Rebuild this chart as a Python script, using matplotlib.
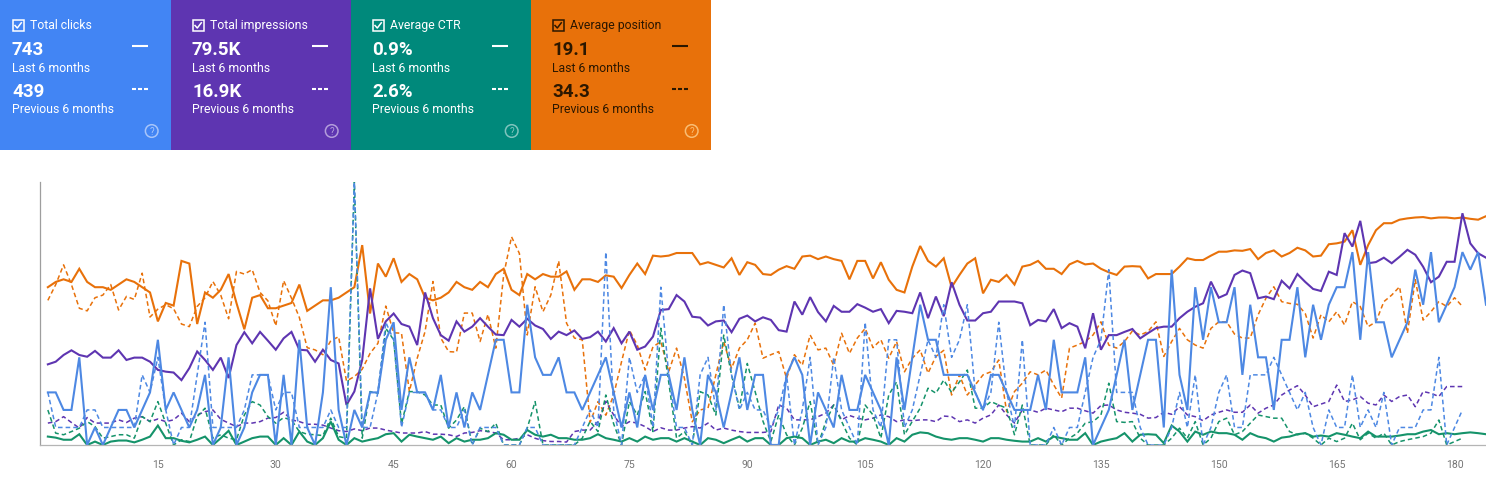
import matplotlib.pyplot as plt
import numpy as np
from matplotlib.patches import Rectangle, Circle

plt.rcParams['font.family'] = ['Roboto', 'DejaVu Sans']

# Valores diarios (ultimos 6 meses: 184 dias, anteriores: 181)
clicks_last = [3, 3, 2, 2, 5, 0, 1, 0, 1, 2,
               2, 1, 2, 3, 6, 2, 3, 2, 1, 2,
               4, 0, 1, 5, 0, 1, 3, 4, 4, 0,
               4, 0, 6, 1, 0, 3, 9, 2, 0, 2,
               1, 3, 3, 6, 7, 2, 5, 3, 3, 2,
               4, 1, 3, 1, 3, 2, 4, 6, 6, 3,
               3, 8, 5, 4, 4, 5, 3, 3, 2, 3,
               4, 5, 3, 1, 3, 1, 4, 2, 4, 4,
               2, 5, 2, 0, 4, 3, 1, 3, 5, 2,
               4, 4, 0, 0, 4, 5, 4, 0, 3, 2,
               1, 4, 2, 2, 4, 3, 2, 0, 5, 2,
               5, 8, 6, 6, 4, 4, 4, 4, 3, 2,
               4, 4, 3, 2, 2, 2, 4, 2, 6, 3,
               3, 3, 5, 0, 1, 2, 4, 6, 2, 4,
               6, 6, 1, 10, 4, 2, 9, 6, 9, 7,
               7, 9, 4, 8, 5, 5, 2, 6, 6, 9,
               5, 8, 6, 8, 9, 9, 11, 6, 11, 7,
               7, 5, 6, 7, 10, 8, 11, 7, 8, 9,
               11, 10, 11, 8]
clicks_prev = [3, 1, 1, 1, 1, 2, 2, 1, 1, 1,
               1, 1, 4, 3, 5, 2, 0, 1, 1, 4,
               7, 1, 1, 1, 1, 2, 4, 4, 4, 2,
               3, 3, 1, 1, 1, 1, 2, 1, 1, 15,
               1, 1, 3, 7, 6, 1, 3, 3, 3, 2,
               2, 1, 1, 2, 0, 1, 1, 1, 0, 0,
               0, 1, 1, 0, 0, 0, 0, 0, 1, 2,
               1, 11, 2, 0, 5, 3, 4, 1, 9, 4,
               1, 1, 0, 4, 5, 2, 8, 4, 2, 3,
               2, 2, 1, 2, 4, 0, 2, 5, 0, 1,
               5, 2, 1, 0, 7, 2, 1, 6, 6, 1,
               2, 4, 6, 5, 8, 5, 6, 8, 3, 2,
               3, 7, 3, 1, 6, 0, 0, 0, 1, 0,
               1, 1, 3, 5, 6, 10, 3, 3, 3, 1,
               0, 0, 0, 1, 3, 1, 4, 0, 1, 3,
               4, 1, 1, 4, 4, 4, 5, 4, 3, 2,
               3, 1, 0, 2, 1, 1, 4, 1, 2, 1,
               3, 0, 1, 1, 1, 2, 2, 5, 0, 1, 2]

impr_last = [276, 285, 308, 324, 308, 302, 322, 299, 299, 324,
             291, 299, 299, 285, 257, 251, 248, 222, 263, 320,
             291, 257, 299, 229, 342, 386, 348, 387, 357, 326,
             365, 387, 326, 324, 285, 326, 291, 279, 137, 183,
             291, 536, 363, 423, 450, 414, 405, 342, 522, 434,
             376, 357, 423, 388, 405, 434, 405, 378, 376, 428,
             405, 432, 409, 397, 363, 388, 376, 392, 363, 369,
             388, 354, 400, 348, 388, 326, 337, 371, 462, 465,
             513, 491, 439, 436, 409, 423, 426, 386, 432, 443,
             423, 437, 428, 393, 388, 491, 446, 506, 455, 423,
             476, 456, 456, 482, 470, 456, 465, 417, 459, 456,
             451, 522, 434, 508, 441, 557, 480, 426, 426, 451,
             456, 491, 491, 491, 485, 410, 428, 423, 465, 400,
             417, 405, 331, 451, 326, 376, 376, 387, 397, 365,
             383, 400, 405, 405, 434, 456, 473, 485, 559, 504,
             516, 582, 597, 588, 502, 508, 499, 562, 536, 585,
             558, 534, 527, 593, 582, 725, 679, 767, 622, 626,
             641, 622, 644, 668, 651, 610, 557, 576, 627, 627,
             793, 690, 656, 641]
impr_prev = [75, 80, 97, 77, 58, 94, 75, 75, 75, 86,
             77, 92, 97, 80, 89, 80, 86, 109, 80, 103,
             114, 120, 88, 75, 63, 75, 75, 80, 92, 94,
             112, 86, 80, 71, 71, 68, 58, 49, 46, 55,
             49, 58, 58, 51, 46, 41, 41, 41, 46, 37,
             37, 35, 29, 41, 43, 49, 46, 41, 18, 18,
             23, 35, 23, 15, 12, 12, 10, 46, 51, 51,
             80, 149, 103, 63, 80, 75, 63, 46, 59, 51,
             51, 58, 63, 58, 75, 51, 58, 51, 46, 43,
             43, 43, 46, 137, 126, 86, 86, 86, 97, 109,
             137, 86, 101, 92, 86, 92, 103, 97, 80, 86,
             83, 86, 86, 80, 99, 97, 80, 86, 75, 92,
             103, 137, 103, 75, 120, 120, 112, 126, 120, 114,
             126, 126, 117, 109, 135, 137, 120, 112, 109, 105,
             92, 94, 112, 105, 131, 103, 97, 83, 103, 112,
             120, 112, 112, 137, 109, 126, 137, 171, 188, 203,
             171, 131, 140, 149, 205, 149, 154, 166, 143, 137,
             171, 149, 166, 171, 131, 183, 177, 166, 200, 200, 200]

ctr_last = [0.96, 0.84, 0.6, 0.6, 1.23, 0, 0.39, 0, 0.39, 0.51,
            0.51, 0.3, 0.6, 0.96, 2.22, 0.78, 0.78, 0.48, 0.3, 0.6,
            0.96, 0, 0.78, 1.62, 0, 0.39, 0.78, 0.96, 0.96, 0,
            0.78, 0, 1.53, 0.39, 0, 0.78, 2.67, 0.6, 0, 0.78,
            0.39, 0.6, 0.78, 1.23, 1.35, 0.39, 1.17, 0.96, 0.78, 0.6,
            0.96, 0.21, 0.78, 0.39, 0.6, 0.6, 0.78, 1.35, 1.17, 0.6,
            0.6, 1.71, 1.17, 0.96, 1.17, 0.78, 0.78, 0.6, 0.6, 0.78,
            1.23, 0.78, 0.6, 0.39, 0.78, 0.39, 0.96, 0.6, 0.78, 0.78,
            0.39, 0.78, 0.39, 0, 0.78, 0.6, 0.21, 0.6, 0.96, 0.39,
            0.78, 0.78, 0, 0, 0.78, 0.96, 0.78, 0, 0.39, 0.6,
            0.21, 0.78, 0.39, 0.39, 0.78, 0.6, 0.39, 0, 0.78, 0.39,
            1.17, 1.44, 1.35, 0.96, 0.72, 0.6, 0.78, 0.78, 0.6, 0.39,
            0.78, 0.78, 0.6, 0.48, 0.39, 0.39, 0.78, 0.39, 0.96, 0.78,
            0.6, 0.6, 1.35, 0, 0.39, 0.6, 0.78, 1.35, 0.39, 1.17,
            1.23, 1.17, 0.21, 2.22, 1.53, 0.39, 1.53, 1.17, 1.53, 1.35,
            1.35, 1.17, 0.6, 1.35, 0.96, 0.78, 0.39, 0.84, 0.96, 1.23,
            1.35, 0.96, 1.08, 0.96, 1.35, 1.17, 0.96, 0.78, 1.53, 0.96,
            0.96, 0.96, 1.08, 1.23, 1.23, 1.53, 1.71, 1.23, 1.35, 1.23,
            1.35, 1.44, 1.35, 1.23]
ctr_prev = [3.99, 1.35, 1.17, 1.53, 1.92, 2.67, 2.1, 0.78, 0.96, 1.17,
            1.17, 0.78, 3.24, 2.67, 4.95, 2.49, 0, 0.6, 0.39, 3.24,
            4.2, 0.78, 1.17, 0.78, 0.6, 3.42, 4.95, 4.56, 3.24, 2.49,
            3.12, 2.85, 1.53, 1.23, 1.17, 1.08, 3.06, 0.96, 0.78, 30.0,
            0.78, 6.09, 5.91, 13.32, 12.0, 2.4, 6.09, 6.09, 5.7, 4.56,
            4.56, 1.92, 2.85, 4.38, 0, 1.92, 1.53, 2.49, 0, 0,
            0, 1.92, 4.95, 0, 0, 0, 0, 0, 0.78, 2.7,
            1.53, 5.7, 2.4, 0, 4.95, 3.42, 6.09, 1.53, 13.32, 7.2,
            0.78, 1.53, 0, 6.09, 5.7, 3.42, 12.54, 7.98, 4.2, 9.3,
            6.09, 2.7, 0.39, 3.42, 1.17, 0, 1.92, 4.95, 0, 2.7,
            4.56, 2.7, 0.78, 0, 4.56, 3.42, 0.78, 5.7, 7.2, 1.17,
            2.7, 4.2, 6.48, 5.91, 7.41, 6.0, 7.2, 8.55, 4.2, 4.2,
            4.95, 4.56, 4.2, 1.17, 4.56, 0, 0, 0, 1.17, 0,
            0.78, 1.35, 2.49, 2.67, 3.42, 7.05, 2.67, 2.58, 2.67, 0.78,
            0, 0, 0, 0.78, 1.92, 0.78, 2.67, 0, 0.78, 2.67,
            3.06, 1.17, 1.53, 2.49, 3.42, 3.24, 3.06, 3.06, 1.53, 1.17,
            1.35, 0.78, 0, 0.78, 0.39, 0.78, 2.49, 0.6, 1.35, 0.78,
            1.35, 0, 0.39, 0.6, 0.78, 0.96, 1.35, 2.85, 0, 0.39, 0.78]

pos_last = [24.0, 22.8, 22.2, 22.8, 19.8, 22.8, 24.0, 24.0, 24.6, 23.4,
            22.2, 22.8, 24.0, 25.2, 31.8, 27.6, 28.2, 18.0, 18.6, 32.4,
            25.2, 26.4, 24.6, 21.0, 27.6, 33.6, 26.4, 25.8, 28.8, 28.8,
            28.2, 27.6, 23.4, 29.4, 28.2, 27.0, 27.0, 26.4, 25.2, 24.0,
            14.4, 30.0, 18.6, 21.6, 17.4, 22.8, 21.0, 22.2, 26.4, 27.0,
            26.4, 25.2, 22.8, 24.0, 24.6, 22.8, 24.0, 21.0, 19.8, 24.6,
            25.8, 21.0, 22.2, 21.0, 21.6, 21.6, 20.4, 24.6, 22.2, 22.2,
            22.8, 21.3, 21.6, 24.2, 21.2, 18.6, 21.0, 16.8, 17.0, 16.8,
            16.2, 16.2, 16.2, 18.8, 18.3, 18.9, 19.5, 17.4, 21.2, 18.3,
            18.9, 21.0, 21.2, 20.0, 19.2, 19.8, 17.0, 16.8, 17.6, 17.0,
            17.6, 18.0, 22.2, 18.0, 18.0, 22.0, 18.3, 22.3, 24.6, 25.2,
            19.3, 14.6, 18.0, 19.3, 17.4, 24.0, 21.2, 18.6, 17.4, 25.4,
            22.3, 22.8, 21.2, 23.4, 19.3, 18.9, 18.0, 19.8, 19.8, 21.0,
            18.8, 18.0, 18.8, 18.6, 19.8, 20.6, 21.2, 19.3, 19.2, 19.3,
            22.0, 21.0, 21.0, 21.0, 19.3, 17.4, 17.8, 17.8, 16.8, 15.9,
            15.9, 15.6, 15.7, 15.3, 17.6, 16.2, 15.6, 17.0, 16.2, 15.0,
            15.6, 17.0, 16.8, 14.2, 14.0, 13.6, 11.0, 18.9, 14.4, 11.0,
            9.4, 9.4, 8.6, 8.3, 8.1, 8.0, 8.3, 8.1, 8.1, 8.3,
            8.1, 8.4, 8.6, 7.8]
pos_prev = [27.0, 23.4, 18.9, 23.4, 28.8, 29.4, 26.4, 25.8, 23.4, 29.2,
            26.1, 26.8, 20.8, 30.8, 29.0, 28.0, 28.9, 32.4, 33.0, 28.4,
            26.4, 22.7, 25.8, 31.2, 20.4, 21.0, 20.0, 25.2, 27.1, 32.8,
            22.5, 26.5, 30.9, 37.8, 38.3, 39.4, 36.2, 35.3, 45.4, 44.4,
            42.7, 39.1, 36.8, 28.3, 34.4, 34.5, 47.8, 40.2, 34.1, 22.7,
            35.6, 38.7, 38.8, 29.9, 29.9, 36.4, 30.2, 37.9, 21.2, 12.5,
            16.3, 34.9, 23.9, 29.6, 25.8, 18.0, 32.2, 35.6, 36.0, 54.8,
            50.1, 53.2, 48.6, 41.0, 33.8, 37.2, 42.9, 37.6, 36.4, 43.3,
            37.9, 44.8, 54.7, 52.0, 51.6, 44.0, 36.4, 42.5, 37.9, 36.0,
            32.2, 40.2, 39.4, 38.7, 44.8, 39.4, 41.8, 34.9, 38.3, 37.9,
            41.8, 34.5, 39.1, 35.6, 33.4, 37.8, 36.0, 40.2, 36.4, 43.3,
            40.2, 38.3, 43.6, 39.8, 38.4, 48.6, 44.0, 48.6, 46.3, 44.0,
            43.3, 40.6, 52.4, 47.8, 45.9, 43.3, 44.0, 42.9, 46.3, 49.3,
            37.9, 37.2, 36.4, 34.9, 31.9, 37.2, 37.9, 36.4, 34.0, 34.9,
            34.1, 31.9, 39.8, 36.4, 33.4, 36.0, 37.2, 37.9, 33.4, 31.9,
            31.9, 34.7, 35.6, 35.6, 30.3, 26.5, 23.9, 27.3, 27.7, 27.9,
            30.0, 35.6, 30.3, 31.9, 29.6, 32.6, 27.3, 28.4, 33.0, 31.9,
            27.3, 25.8, 23.9, 34.5, 22.3, 31.5, 29.6, 27.3, 28.4, 26.4, 28.4]

# Tarjetas de resumen
card_titles = ['Total clicks', 'Total impressions', 'Average CTR', 'Average position']
card_last = ['743', '79.5K', '0.9%', '19.1']
card_prev = ['439', '16.9K', '2.6%', '34.3']
card_colors = ['#4285f4', '#5e35b1', '#00897b', '#e8710a']
card_text = ['white', 'white', 'white', '#2b1700']
card_help = ['#a7c5fa', '#b39ddb', '#7fc4bd', '#f9bd73']

x_ticks = [15, 30, 45, 60, 75, 90, 105, 120, 135, 150, 165, 180]

c_clicks = '#4d88e3'
c_impr = '#5e35b1'
c_ctr = '#15936a'
c_pos = '#e8710a'

W, H = 1486, 486
fig = plt.figure(figsize=(W / 100, H / 100), dpi=100)
fig.patch.set_facecolor('white')

# Capa en pixeles para las tarjetas
pix = fig.add_axes([0, 0, 1, 1])
pix.set_xlim(0, W)
pix.set_ylim(H, 0)
pix.axis('off')

for i in range(4):
    x0 = 0 if i == 0 else 171 + 180 * (i - 1)
    x1 = 171 + 180 * i
    pix.add_patch(Rectangle((x0, 0), x1 - x0, 150, facecolor=card_colors[i],
                            edgecolor='none'))
    tx = 12 + 180 * i
    tc = card_text[i]
    # casilla marcada
    pix.add_patch(Rectangle((tx + 0.5, 20), 11, 11, facecolor='none',
                            edgecolor=tc, lw=1.1))
    pix.plot([tx + 3, tx + 5.3, tx + 9.3], [25.5, 28, 22.8], color=tc, lw=1.1)
    pix.text(tx + 18, 25.8, card_titles[i], color=tc, fontsize=8.8,
             va='center', ha='left')
    pix.text(tx, 50, card_last[i], color=tc, fontsize=13.5, fontweight='bold',
             va='center', ha='left')
    pix.text(tx, 68.5, 'Last 6 months', color=tc, fontsize=8.8,
             va='center', ha='left')
    pix.text(tx, 92, card_prev[i], color=tc, fontsize=13.5, fontweight='bold',
             va='center', ha='left')
    pix.text(tx, 109.5, 'Previous 6 months', color=tc, fontsize=8.8,
             va='center', ha='left')
    # iconos de linea
    pix.plot([tx + 120, tx + 136], [46.5, 46.5], color=tc, lw=1.5,
             solid_capstyle='butt')
    for k in range(3):
        pix.plot([tx + 120 + 6 * k, tx + 124 + 6 * k], [89.5, 89.5],
                 color=tc, lw=1.5, solid_capstyle='butt')
    # ayuda
    pix.add_patch(Circle((tx + 139.7, 131), 6.3, facecolor='none',
                         edgecolor=card_help[i], lw=1.1))
    pix.text(tx + 139.7, 131.5, '?', color=card_help[i], fontsize=7,
             ha='center', va='center')

# Grafico principal
ax = fig.add_axes([40 / W, 1 - 445 / H, 1 - 40 / W, (445 - 182) / H])
pos_ax = ax.twinx()
impr_ax = ax.twinx()
ctr_ax = ax.twinx()

days_last = np.arange(1, len(clicks_last) + 1)
days_prev = np.arange(1, len(clicks_prev) + 1)

solid = dict(lw=1.5, solid_joinstyle='miter')
dashed = dict(lw=1.1, linestyle=(0, (3, 2)))

pos_ax.plot(days_prev, pos_prev, color=c_pos, **dashed)
pos_ax.plot(days_last, pos_last, color=c_pos, **solid)
pos_ax.set_ylim(60, 0)

impr_ax.plot(days_prev, impr_prev, color=c_impr, **dashed)
impr_ax.plot(days_last, impr_last, color=c_impr, **solid)
impr_ax.set_ylim(0, 900)

ctr_ax.plot(days_prev, ctr_prev, color=c_ctr, **dashed)
ctr_ax.plot(days_last, ctr_last, color=c_ctr, **solid)
ctr_ax.set_ylim(0, 30)

ax.plot(days_prev, clicks_prev, color=c_clicks, **dashed)
ax.plot(days_last, clicks_last, color=c_clicks, **solid)
ax.set_ylim(0, 15)
ax.set_xlim(0, 184)

for t in (pos_ax, impr_ax, ctr_ax):
    t.set_axis_off()
ax.set_zorder(5)
ax.patch.set_visible(False)

ax.spines['top'].set_visible(False)
ax.spines['right'].set_visible(False)
ax.spines['left'].set_color('#9e9e9e')
ax.spines['left'].set_linewidth(0.9)
ax.spines['bottom'].set_color('#b5b5b5')
ax.spines['bottom'].set_linewidth(0.9)
ax.set_yticks([])
ax.set_xticks(x_ticks)
ax.tick_params(axis='x', length=0, pad=11, labelsize=7.5, labelcolor='#757575')

fig.savefig('out.png', dpi=100)
